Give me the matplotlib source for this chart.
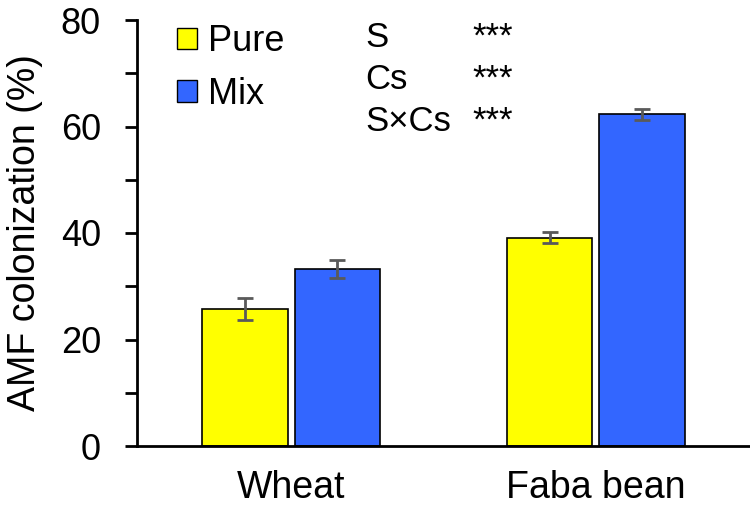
import numpy as np
import matplotlib
matplotlib.use("Agg")
import matplotlib.pyplot as plt
from matplotlib.patches import Patch
from matplotlib.ticker import MultipleLocator

plt.rcParams['font.family'] = ['Liberation Sans', 'DejaVu Sans']

# data
crops = ['Wheat', 'Faba bean']
pure = [25.7, 39.1]
pure_err = [2.0, 1.0]
mix = [33.2, 62.3]
mix_err = [1.7, 1.0]
effects = ['S', 'Cs', 'S×Cs']
signif = ['***', '***', '***']

fig = plt.figure(figsize=(7.5, 5.09), dpi=100)
ax = fig.add_axes([137/750, 1 - 446/509, 613/750, 426/509])

x = np.arange(len(crops))
w = 0.279
off = 0.151
ekw = dict(ecolor='#5a5a5a', elinewidth=2, capthick=2)
ax.bar(x - off, pure, w, yerr=pure_err, color='#FFFF00', edgecolor='black',
       linewidth=1.2, capsize=6, error_kw=ekw, label='Pure')
ax.bar(x + off, mix, w, yerr=mix_err, color='#3366FF', edgecolor='black',
       linewidth=1.2, capsize=6, error_kw=ekw, label='Mix')

ax.set_xlim(-0.505, 1.505)
ax.set_ylim(0, 80)
ax.set_xticks(x)
ax.set_xticklabels(crops, fontsize=27)
ax.tick_params(axis='x', length=0, pad=17)
ax.yaxis.set_major_locator(MultipleLocator(20))
ax.yaxis.set_minor_locator(MultipleLocator(10))
ax.tick_params(axis='y', which='both', direction='out', length=9, width=2, labelsize=26, pad=17)
ax.set_ylabel('AMF colonization (%)', fontsize=27, labelpad=13)

for s in ['top', 'right']:
    ax.spines[s].set_visible(False)
ax.spines['left'].set_linewidth(2)
ax.spines['bottom'].set_linewidth(2)

handles = [Patch(facecolor='#FFFF00', edgecolor='black'),
           Patch(facecolor='#3366FF', edgecolor='black')]
ax.legend(handles, ['Pure', 'Mix'], loc='upper left', bbox_to_anchor=(0.065, 0.99),
          frameon=False, fontsize=26, handlelength=0.55, handleheight=0.55,
          handletextpad=0.3, labelspacing=0.48, borderaxespad=0, borderpad=0)

# significance of the two-way ANOVA terms
for i, (e, s) in enumerate(zip(effects, signif)):
    yy = 1 - (47 + i * 42 - 20) / 426
    ax.text(0.372, yy, e, transform=ax.transAxes, fontsize=25, va='baseline', ha='left')
    ax.text(0.547, yy, s, transform=ax.transAxes, fontsize=25, va='baseline', ha='left')

fig.savefig('out.png', dpi=100)
